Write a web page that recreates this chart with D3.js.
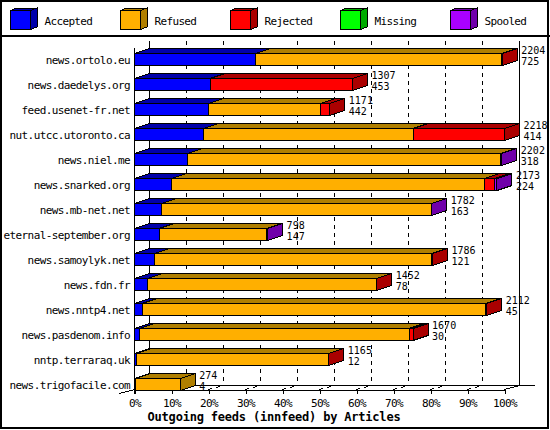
<!DOCTYPE html>
<html><head><meta charset="utf-8">
<script src="https://cdn.jsdelivr.net/npm/d3@7"></script>
<style>
body{margin:0;background:#fff}
svg{display:block}
text{font-family:"DejaVu Sans Mono",monospace;fill:#000}
</style>
</head><body><svg id="c" width="550" height="430"></svg>
<script>
const categories = ["news.ortolo.eu","news.daedelys.org","feed.usenet-fr.net","nut.utcc.utoronto.ca","news.niel.me","news.snarked.org","news.mb-net.net","eternal-september.org","news.samoylyk.net","news.fdn.fr","news.nntp4.net","news.pasdenom.info","nntp.terraraq.uk","news.trigofacile.com"];
const seriesNames = ["Accepted","Refused","Rejected","Missing","Spooled"];
const accepted = [725,453,442,414,318,224,163,147,121,78,45,30,12,4];
const refused  = [1474,0,673,1256,1878,1876,1617,644,1659,1372,2061,1616,1150,270];
const rejected = [5,854,56,548,0,56,0,0,6,2,6,24,3,0];
const missing  = [0,0,0,0,0,0,0,0,0,0,0,0,0,0];
const spooled  = [0,0,0,0,6,17,2,7,0,0,0,0,0,0];
const totals   = [2204,1307,1171,2218,2202,2173,1782,798,1786,1452,2112,1670,1165,274];
const tickValues = [0,10,20,30,40,50,60,70,80,90,100];
const tickLabels = ["0%","10%","20%","30%","40%","50%","60%","70%","80%","90%","100%"];
const xTitle = "Outgoing feeds (innfeed) by Articles";
const frontColors = ["#0000ff","#ffaf00","#ff0000","#00ff00","#aa00ff"];
const darkColors  = ["#0000aa","#b07f00","#aa0000","#00aa00","#7000aa"];

const series = [accepted, refused, rejected, missing, spooled];
const svg = d3.select("#c");
svg.append("rect").attr("x",0).attr("y",0).attr("width",550).attr("height",430).attr("fill","#fff");

const DX = 15, DY = 5;
const maxTotal = d3.max(totals);
const x = d3.scaleLinear().domain([0, maxTotal]).range([134.5, 504.5]);
const pct = d3.scaleLinear().domain([0, 100]).range([134.5, 504.5]);
const y = d3.scaleBand().domain(categories).range([47, 397]).paddingInner(0.52).paddingOuter(0.26);
const bh = y.bandwidth();

const g = svg.append("g").attr("shape-rendering","crispEdges");

// back wall grid lines
g.selectAll("line.grid").data(tickValues).join("line")
  .attr("class","grid")
  .attr("x1", d => pct(d) + DX).attr("x2", d => pct(d) + DX)
  .attr("y1", 41).attr("y2", 385.5)
  .attr("stroke","#000").attr("stroke-width",1)
  .attr("stroke-dasharray", d => (d === 0 || d === 100) ? null : "4,4");

// back floor line
g.append("line").attr("x1", pct(0)+DX).attr("x2", 535).attr("y1",385.5).attr("y2",385.5).attr("stroke","#000");

// floor diagonals
g.selectAll("line.diag").data(tickValues.filter(d => d > 0)).join("line")
  .attr("class","diag")
  .attr("x1", d => pct(d)).attr("y1", 389.5)
  .attr("x2", d => pct(d) + DX).attr("y2", 385.5)
  .attr("stroke","#000")
  .attr("stroke-dasharray", d => d === 100 ? null : "4,4");
g.append("line").attr("x1",119.5).attr("y1",393.5).attr("x2",134.5).attr("y2",389.5).attr("stroke","#000");

// front y axis line
g.append("line").attr("x1",134.5).attr("x2",134.5).attr("y1",48).attr("y2",393.5).attr("stroke","#000");

// x axis
const xAxis = d3.axisBottom(pct).tickValues(tickValues)
  .tickFormat((d,i) => tickLabels[i]).tickSize(4).tickSizeOuter(0).tickPadding(5.4);
const ax = svg.append("g").attr("transform","translate(0,389.5)").call(xAxis);
ax.select(".domain").attr("stroke","#000").attr("shape-rendering","crispEdges");
ax.selectAll(".tick line").attr("stroke","#000").attr("shape-rendering","crispEdges");
ax.selectAll(".tick text").attr("font-family","DejaVu Sans Mono").attr("font-size",11)
  .attr("letter-spacing","-0.6px").attr("fill","#000");

// bars
const bars = svg.append("g").attr("shape-rendering","crispEdges");
categories.forEach((cat, i) => {
  let cum = 0;
  const top = y(cat);
  series.forEach((arr, s) => {
    const v = arr[i];
    if (v <= 0) return;
    const x0 = x(cum), x1 = x(cum + v);
    cum += v;
    const row = bars.append("g");
    row.append("polygon")
      .attr("points", [[x0,top],[x0+DX,top-DY],[x1+DX,top-DY],[x1,top]].map(p=>p.join(",")).join(" "))
      .attr("fill", darkColors[s]).attr("stroke","#000");
    row.append("polygon")
      .attr("points", [[x1,top],[x1+DX,top-DY],[x1+DX,top+bh-DY],[x1,top+bh]].map(p=>p.join(",")).join(" "))
      .attr("fill", darkColors[s]).attr("stroke","#000");
    row.append("rect").attr("x", x0).attr("y", top).attr("width", Math.max(0, x1-x0)).attr("height", bh)
      .attr("fill", frontColors[s]).attr("stroke","#000");
  });
});

// category labels
svg.selectAll("text.cat").data(categories).join("text")
  .attr("class","cat")
  .attr("x", 130).attr("y", d => y(d) + 10)
  .attr("text-anchor","end").attr("font-size",11).attr("letter-spacing","-0.6px")
  .text(d => d);

// value labels
categories.forEach((cat, i) => {
  const lx = x(totals[i]) + DX + 4;
  svg.append("text").attr("x", lx).attr("y", y(cat) + 0.3)
    .attr("font-size",10).text(totals[i]);
  svg.append("text").attr("x", lx).attr("y", y(cat) + 11.8)
    .attr("font-size",10).text(accepted[i]);
});

// axis title
svg.append("text").attr("x", 274).attr("y", 420.5).attr("text-anchor","middle")
  .attr("font-size",12).attr("font-weight","bold").attr("letter-spacing","-0.2px").text(xTitle);

// legend
const lg = svg.append("g").attr("shape-rendering","crispEdges");
seriesNames.forEach((name, s) => {
  const lx = 10.5 + 110 * s, ly = 10.5, w = 20, h = 19, dx = 6.5, dy = 2.5;
  lg.append("polygon")
    .attr("points", [[lx,ly],[lx+dx,ly-dy],[lx+w+dx,ly-dy],[lx+w,ly]].map(p=>p.join(",")).join(" "))
    .attr("fill", darkColors[s]).attr("stroke","#000");
  lg.append("polygon")
    .attr("points", [[lx+w,ly],[lx+w+dx,ly-dy],[lx+w+dx,ly+h-dy],[lx+w,ly+h]].map(p=>p.join(",")).join(" "))
    .attr("fill", darkColors[s]).attr("stroke","#000");
  lg.append("rect").attr("x",lx).attr("y",ly).attr("width",w).attr("height",h)
    .attr("fill", frontColors[s]).attr("stroke","#000");
  svg.append("text").attr("x", 44.5 + 110 * s).attr("y", 25)
    .attr("font-size",11).attr("letter-spacing","-0.65px").text(name);
});

// separator and border
svg.append("line").attr("x1",0).attr("x2",550).attr("y1",36).attr("y2",36)
  .attr("stroke","#000").attr("stroke-width",2).attr("shape-rendering","crispEdges");
svg.append("rect").attr("x",1).attr("y",1).attr("width",547).attr("height",427)
  .attr("fill","none").attr("stroke","#000").attr("stroke-width",2).attr("shape-rendering","crispEdges");
</script>
</body></html>
